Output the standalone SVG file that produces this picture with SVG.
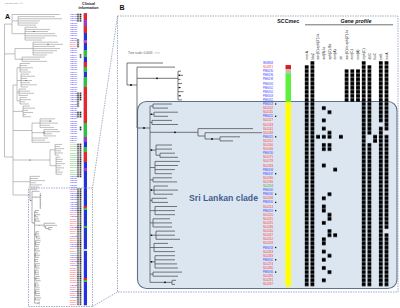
<svg xmlns="http://www.w3.org/2000/svg" width="400" height="308" viewBox="0 0 400 308">
<defs>
<style>
text{font-family:"Liberation Sans",Arial,sans-serif}
.al{font-size:1.7px}
.bl{font-size:3px}
.cb{fill:#3030ff}.cr{fill:#ff2a2a}.cg{fill:#22aa22}.cy{fill:#aaaa22}
.ta{fill:none;stroke:#8c8c8c;stroke-width:0.55}
.dash{fill:none;stroke:#8c9bb5;stroke-width:0.8;stroke-dasharray:1.5 1}
.gl{font-size:3.3px;fill:#222}
.gs{fill:url(#gsq)}
.as{fill:url(#asq)}
.hd{font-weight:bold;fill:#111}
</style>
<pattern id="gsq" patternUnits="userSpaceOnUse" x="303.85" y="60.95" width="5.7" height="4.1"><rect x="0.95" y="0.25" width="3.8" height="3.6" fill="#000"/></pattern>
<pattern id="asq" patternUnits="userSpaceOnUse" x="76.7" y="13.435" width="2.6" height="2.13"><rect x="0.55" y="0.3" width="1.5" height="1.5" fill="#111"/></pattern>
<g id="btree">
<path vector-effect="non-scaling-stroke" d="M127 63V85M127 63H163M127 85H137M137 67.1V128M137 67.1H175M137 78.3H178M178 71.2V99.9M178 71.2H181M178 75.3H183M178 79.4H180.5M178 83.5H182M178 87.6H181M178 91.7H183.5M178 95.8H180.5M178 99.9H182M137 128H150M150 106.05V282.35M150 106.05H153M153 104V108.1M153 104H172M153 108.1H168M150 114.25H154M154 112.2V116.3M154 112.2H178M154 116.3H168M150 122.45H152M152 120.4V124.5M152 120.4H172M152 124.5H178M150 132.3H198M198 128.6V136M198 128.6H253M198 136H205M205 132.7V139M205 132.7H262M205 139H220M220 136.8V140.9M220 136.8H240M220 140.9H233M150 150.1H156M156 145V155.25M156 145H172M156 149.1H172M156 155.25H160M160 153.2V157.3M160 153.2H175M160 157.3H178M150 167.55H155M155 161.4V173.7M155 161.4H180M155 165.5H178M155 169.6H175M155 173.7H172M150 179.85H153M153 177.8V181.9M153 177.8H172M153 181.9H177M150 190.1H154M154 186V194.2M154 186H168M154 190.1H178M154 194.2H173M150 200.35H152M152 198.3V202.4M152 198.3H167M152 202.4H168M150 210.6H155M155 206.5V214.7M155 206.5H177M155 210.6H175M155 214.7H175M150 222.9H153M153 218.8V227M153 218.8H170M153 222.9H172M153 227H172M150 235.2H156M156 231.1V239.3M156 231.1H175M156 235.2H175M156 239.3H180M150 247.5H154M154 243.4V251.6M154 243.4H168M154 247.5H173M154 251.6H175M150 261.85H155M155 255.7V268M155 255.7H175M155 259.8H175M155 263.9H177M155 268H178M150 274.15H153M153 272.1V276.2M153 272.1H182M153 276.2H178M150 282.35H172M172 280.3V284.4M172 280.3H176M172 284.4H175"/>
<g fill="#000" stroke="none">
<circle cx="131" cy="85" r="0.9"/><circle cx="157" cy="78.3" r="0.9"/><circle cx="144" cy="128" r="0.9"/><circle cx="175" cy="132.3" r="0.9"/><circle cx="212" cy="139" r="0.9"/><circle cx="165" cy="282.35" r="0.9"/><circle cx="151.5" cy="114.25" r="0.8"/><circle cx="151.5" cy="150.1" r="0.8"/><circle cx="151.5" cy="190.1" r="0.8"/><circle cx="151.5" cy="235.2" r="0.8"/><circle cx="151.5" cy="261.85" r="0.8"/><circle cx="179.5" cy="75.3" r="0.7"/><circle cx="179.5" cy="87.6" r="0.7"/><circle cx="180" cy="95.8" r="0.7"/>
</g>
</g>
</defs>
<rect width="400" height="308" fill="#fff"/>

<g id="panelA">
<text class="hd" x="5" y="18.5" font-size="7">A</text>
<text x="5" y="3.8" font-size="1.6" fill="#666">Tree scale: 0.0001</text>
<path d="M19.5 3.2H23" stroke="#999" stroke-width="0.4"/>
<text class="hd" x="88.5" y="4.8" font-size="3.6" text-anchor="middle">Clinical</text>
<text class="hd" x="88.5" y="9.2" font-size="3.6" text-anchor="middle">information</text>
<g id="treeA">
<path class="ta" d="M4.5 24.1V157M4.5 24.1H12M12 14.5V33.67M12 14.5H60M12 20.9H18M18 16.63V25.15M18 16.63H55M18 18.76H62M18 20.89H40M18 23.02H38M18 25.15H36M12 33.67H25M25 27.28V40.06M25 27.28H37M25 29.41H50M25 31.54H48M25 33.67H55M25 35.8H57M25 37.93H45M25 40.06H42M4.5 53.9H15M15 48.58V59.23M15 48.58H33M33 42.19V54.97M33 42.19H58M33 44.32H63M33 46.45H55M33 48.58H60M33 50.71H57M33 52.84H53M33 54.97H47M15 59.23H22M22 57.1V61.36M22 57.1H45M22 59.23H40M22 61.36H47"/>
<path class="ta" d="M4.5 157H13M13 85V195M13 85H17M17 67.75V100.8M17 67.75H20M20 63.49V72.01M20 63.49H30M20 65.62H27M20 67.75H33M20 69.88H28M20 72.01H31M17 80.53H21M21 74.14V86.92M21 74.14H29M21 76.27H35M21 78.4H27M21 80.53H32M21 82.66H30M21 84.79H37M21 86.92H28M17 92.2H19M19 89.05V95.44M19 89.05H26M19 91.18H30M19 93.31H34M19 95.44H28M17 100.8H20M20 97.57V103.96M20 97.57H27M20 99.7H31M20 101.83H25M20 103.96H29"/>
<path class="ta" d="M13 111.4H23M23 106.09V116.74M23 106.09H30M23 108.22H35M23 110.35H28M23 112.48H33M23 114.61H26M23 116.74H31M13 130.5H32M32 123.1V142.3M32 123.1H40M40 118.87V127.39M40 118.87H55M40 121H52M40 123.13H58M40 125.26H50M40 127.39H54M32 132.7H44M44 129.52V135.91M44 129.52H58M44 131.65H60M44 133.78H52M44 135.91H56M32 138.04H48M32 140.17H45M32 142.3H50"/>
<path class="ta" d="M13 160H50M50 149.8V165.7M50 149.8H55M55 144.43V155.08M55 144.43H62M55 146.56H60M55 148.69H64M55 150.82H61M55 152.95H63M55 155.08H59M50 165.7H56M56 157.21V174.25M56 157.21H60M56 159.34H63M56 161.47H62M56 163.6H65M56 165.73H61M56 167.86H64M56 169.99H60M56 172.12H63M56 174.25H62M13 181.7H30M30 176.38V187.03M30 176.38H40M30 178.51H38M30 180.64H45M30 182.77H36M30 184.9H42M30 187.03H39M13 195H30"/>
<g fill="#222"><circle cx="48" cy="44.32" r="0.5"/><circle cx="50" cy="121" r="0.5"/><circle cx="30" cy="160" r="0.5"/><circle cx="44" cy="132.7" r="0.5"/><circle cx="34" cy="31.54" r="0.5"/><circle cx="26" cy="80.53" r="0.5"/></g>
<use href="#btree" transform="matrix(0.2 0 0 0.5195 4.6 156.43)" stroke="#777" stroke-width="0.55" fill="none"/>
</g>
<g id="labelsA">
<text class="al cb" x="70" y="15.1"><tspan>PNE0101</tspan><tspan x="70" dy="2.13">PNE0104</tspan><tspan x="70" dy="2.13">PNE0107</tspan><tspan x="70" dy="2.13">PNE0110</tspan><tspan x="70" dy="2.13">PNE0112</tspan><tspan x="70" dy="2.13">PNE0115</tspan><tspan x="70" dy="2.13">PNE0118</tspan><tspan x="70" dy="2.13">PNE0121</tspan><tspan x="70" dy="2.13">PNE0123</tspan><tspan x="70" dy="2.13">PNE0126</tspan><tspan x="70" dy="2.13">PNE0129</tspan><tspan x="70" dy="2.13">PNE0131</tspan><tspan x="70" dy="2.13">PNE0134</tspan></text>
<text class="al cr" x="70" y="42.79"><tspan>SL0011</tspan><tspan x="70" dy="2.13">SL0014</tspan><tspan x="70" dy="2.13">SL0017</tspan></text>
<text class="al cb" x="70" y="49.18"><tspan>PNE0137</tspan><tspan x="70" dy="2.13">PNE0139</tspan><tspan x="70" dy="2.13">PNE0142</tspan><tspan x="70" dy="2.13">PNE0144</tspan><tspan x="70" dy="2.13">PNE0147</tspan><tspan x="70" dy="2.13">PNE0149</tspan><tspan x="70" dy="2.13">PNE0152</tspan><tspan x="70" dy="2.13">PNE0154</tspan><tspan x="70" dy="2.13">PNE0157</tspan><tspan x="70" dy="2.13">PNE0159</tspan><tspan x="70" dy="2.13">PNE0162</tspan><tspan x="70" dy="2.13">PNE0164</tspan><tspan x="70" dy="2.13">PNE0167</tspan><tspan x="70" dy="2.13">PNE0169</tspan><tspan x="70" dy="2.13">PNE0172</tspan><tspan x="70" dy="2.13">PNE0174</tspan><tspan x="70" dy="2.13">PNE0177</tspan><tspan x="70" dy="2.13">PNE0179</tspan><tspan x="70" dy="2.13">PNE0182</tspan><tspan x="70" dy="2.13">PNE0184</tspan><tspan x="70" dy="2.13">PNE0187</tspan><tspan x="70" dy="2.13">PNE0189</tspan><tspan x="70" dy="2.13">PNE0192</tspan><tspan x="70" dy="2.13">PNE0194</tspan><tspan x="70" dy="2.13">PNE0197</tspan><tspan x="70" dy="2.13">PNE0199</tspan><tspan x="70" dy="2.13">PNE0202</tspan><tspan x="70" dy="2.13">PNE0204</tspan><tspan x="70" dy="2.13">PNE0207</tspan><tspan x="70" dy="2.13">PNE0209</tspan><tspan x="70" dy="2.13">PNE0212</tspan><tspan x="70" dy="2.13">PNE0214</tspan><tspan x="70" dy="2.13">PNE0217</tspan><tspan x="70" dy="2.13">PNE0219</tspan><tspan x="70" dy="2.13">PNE0222</tspan><tspan x="70" dy="2.13">PNE0224</tspan><tspan x="70" dy="2.13">PNE0227</tspan><tspan x="70" dy="2.13">PNE0229</tspan><tspan x="70" dy="2.13">PNE0232</tspan><tspan x="70" dy="2.13">PNE0234</tspan><tspan x="70" dy="2.13">PNE0237</tspan><tspan x="70" dy="2.13">PNE0239</tspan><tspan x="70" dy="2.13">PNE0242</tspan><tspan x="70" dy="2.13">PNE0244</tspan></text>
<text class="al cy" x="70" y="142.9"><tspan>SL0021</tspan><tspan x="70" dy="2.13">SL0023</tspan></text>
<text class="al cg" x="70" y="147.16"><tspan>SL0025</tspan><tspan x="70" dy="2.13">SL0027</tspan><tspan x="70" dy="2.13">SL0029</tspan><tspan x="70" dy="2.13">SL0031</tspan><tspan x="70" dy="2.13">SL0033</tspan><tspan x="70" dy="2.13">SL0035</tspan><tspan x="70" dy="2.13">SL0037</tspan><tspan x="70" dy="2.13">SL0039</tspan><tspan x="70" dy="2.13">SL0041</tspan><tspan x="70" dy="2.13">SL0043</tspan><tspan x="70" dy="2.13">SL0045</tspan><tspan x="70" dy="2.13">SL0047</tspan><tspan x="70" dy="2.13">SL0049</tspan><tspan x="70" dy="2.13">SL0051</tspan></text>
<text class="al cb" x="70" y="176.98"><tspan>PNE0247</tspan><tspan x="70" dy="2.13">PNE0250</tspan><tspan x="70" dy="2.13">PNE0253</tspan><tspan x="70" dy="2.13">PNE0256</tspan><tspan x="70" dy="2.13">PNE0259</tspan><tspan x="70" dy="2.13">PNE0262</tspan></text>
<text class="al" x="70" y="189.76"><tspan class="cb">IE08808</tspan><tspan x="70" dy="2.13" class="cr">SL0871</tspan><tspan x="70" dy="2.13" class="cb">PNE0290</tspan><tspan x="70" dy="2.13" class="cb">PNE0296</tspan><tspan x="70" dy="2.13" class="cb">PNE0298</tspan><tspan x="70" dy="2.13" class="cb">PNE0300</tspan><tspan x="70" dy="2.13" class="cb">PNE0302</tspan><tspan x="70" dy="2.13" class="cb">PNE0305</tspan><tspan x="70" dy="2.13" class="cb">PNE0309</tspan><tspan x="70" dy="2.13" class="cb">PNE0311</tspan><tspan x="70" dy="2.13" class="cb">PNE0318</tspan><tspan x="70" dy="2.13" class="cr">SL0102</tspan><tspan x="70" dy="2.13" class="cr">SL0115</tspan><tspan x="70" dy="2.13" class="cb">PNE0321</tspan><tspan x="70" dy="2.13" class="cr">SL0127</tspan><tspan x="70" dy="2.13" class="cr">SL0133</tspan><tspan x="70" dy="2.13" class="cr">SL0141</tspan><tspan x="70" dy="2.13" class="cr">SL0148</tspan><tspan x="70" dy="2.13" class="cb">PNE0325</tspan><tspan x="70" dy="2.13" class="cr">SL0152</tspan><tspan x="70" dy="2.13" class="cr">SL0160</tspan><tspan x="70" dy="2.13" class="cr">SL0166</tspan><tspan x="70" dy="2.13" class="cb">PNE0330</tspan><tspan x="70" dy="2.13" class="cr">SL0171</tspan><tspan x="70" dy="2.13" class="cr">SL0178</tspan><tspan x="70" dy="2.13" class="cr">SL0183</tspan><tspan x="70" dy="2.13" class="cb">PNE0334</tspan><tspan x="70" dy="2.13" class="cb">PNE0337</tspan><tspan x="70" dy="2.13" class="cr">SL0190</tspan><tspan x="70" dy="2.13" class="cr">SL0196</tspan><tspan x="70" dy="2.13" class="cg">SL0203</tspan><tspan x="70" dy="2.13" class="cb">PNE0341</tspan><tspan x="70" dy="2.13" class="cb">PNE0345</tspan><tspan x="70" dy="2.13" class="cr">SL0208</tspan><tspan x="70" dy="2.13" class="cb">PNE0350</tspan><tspan x="70" dy="2.13" class="cr">SL0214</tspan><tspan x="70" dy="2.13" class="cb">PNE0353</tspan><tspan x="70" dy="2.13" class="cr">SL0220</tspan><tspan x="70" dy="2.13" class="cr">SL0225</tspan><tspan x="70" dy="2.13" class="cr">SL0231</tspan><tspan x="70" dy="2.13" class="cr">SL0236</tspan><tspan x="70" dy="2.13" class="cr">SL0240</tspan><tspan x="70" dy="2.13" class="cr">SL0247</tspan><tspan x="70" dy="2.13" class="cr">SL0252</tspan><tspan x="70" dy="2.13" class="cr">SL0258</tspan><tspan x="70" dy="2.13" class="cb">PNE0358</tspan><tspan x="70" dy="2.13" class="cr">SL0263</tspan><tspan x="70" dy="2.13" class="cr">SL0269</tspan><tspan x="70" dy="2.13" class="cb">PNE0362</tspan><tspan x="70" dy="2.13" class="cr">SL0274</tspan><tspan x="70" dy="2.13" class="cr">SL0280</tspan><tspan x="70" dy="2.13" class="cb">PNE0366</tspan><tspan x="70" dy="2.13" class="cr">SL0285</tspan><tspan x="70" dy="2.13" class="cr">SL0291</tspan><tspan x="70" dy="2.13" class="cr">SL0297</tspan></text>
</g>
<g id="squaresA">
<rect class="as" x="76.7" y="13.435" width="5.2" height="8.52"/>
<rect class="as" x="76.7" y="38.995" width="2.6" height="8.52"/>
<rect class="as" x="79.3" y="53.905" width="2.6" height="4.26"/>
<rect class="as" x="76.7" y="92.245" width="5.2" height="8.52"/>
<rect class="as" x="76.7" y="100.765" width="2.6" height="6.39"/>
<rect class="as" x="76.7" y="111.415" width="5.2" height="6.39"/>
<rect class="as" x="79.3" y="126.325" width="2.6" height="4.26"/>
<rect class="as" x="76.7" y="143.365" width="5.2" height="34.08"/>
<rect class="as" x="76.7" y="188.095" width="5.2" height="117.15"/>
</g>
<g id="clinicalBar">
<rect x="83.8" y="13.4" width="3.2" height="291.9" fill="#2233dd"/>
<rect x="83.8" y="13.4" width="3.2" height="6.6" fill="#e8262b"/>
<rect x="83.8" y="20" width="3.2" height="6" fill="#9a3ccf"/>
<rect x="83.8" y="26" width="3.2" height="7" fill="#e8262b"/>
<rect x="83.8" y="40" width="3.2" height="3" fill="#d24aa8"/>
<rect x="83.8" y="50" width="3.2" height="7" fill="#2ec23e"/>
<rect x="83.8" y="62" width="3.2" height="5" fill="#e8262b"/>
<rect x="83.8" y="67" width="3.2" height="5" fill="#2ec23e"/>
<rect x="83.8" y="77" width="3.2" height="10" fill="#2ec23e"/>
<rect x="83.8" y="87" width="3.2" height="36" fill="#e8262b"/>
<rect x="83.8" y="123" width="3.2" height="14" fill="#2ec23e"/>
<rect x="83.8" y="137" width="3.2" height="5" fill="#9a3ccf"/>
<rect x="83.8" y="147" width="3.2" height="5" fill="#2ec23e"/>
<rect x="83.8" y="152" width="3.2" height="10" fill="#e8262b"/>
<rect x="83.8" y="168" width="3.2" height="3" fill="#9a3ccf"/>
<rect x="83.8" y="206" width="3.2" height="2" fill="#e8262b"/>
<rect x="83.8" y="208" width="3.2" height="2" fill="#2ec23e"/>
<rect x="83.8" y="226" width="3.2" height="2" fill="#2ec23e"/>
<rect x="83.8" y="249" width="3.2" height="2" fill="#dddddd"/>
<rect x="83.8" y="278" width="3.2" height="2" fill="#e8262b"/>
<rect x="83.8" y="280" width="3.2" height="2" fill="#2ec23e"/>
</g>
</g>

<g id="panelB">
<text class="hd" x="119.5" y="9.5" font-size="7">B</text>
<rect id="srilankan-clade-box" x="137.5" y="101.5" width="259.5" height="187" rx="9" fill="#dce6f1" stroke="#5f708c" stroke-width="1.1"/>
<text x="189" y="200.5" font-size="9.3" font-weight="bold" fill="#3f5f8f" textLength="69" lengthAdjust="spacingAndGlyphs">Sri Lankan clade</text>
<text x="128" y="54" font-size="3" fill="#555">Tree scale: 0.0001</text>
<path d="M154.5 52.9H160" stroke="#aaa" stroke-width="0.6"/>
<use href="#btree" stroke="#555" stroke-width="0.8" fill="none"/>
<text class="hd" x="288.2" y="23.3" font-size="5.3" text-anchor="middle">SCCmec</text>
<text class="hd" x="356" y="23" font-size="5.3" font-style="italic" text-anchor="middle">Gene profile</text>
<path d="M305 24.8H393" stroke="#333" stroke-width="0.7"/>
<g id="geneLabels">
<text class="gl" transform="translate(307.8 59.5) rotate(-90)">mecA</text>
<text class="gl" transform="translate(313.5 59.5) rotate(-90)">blaZ</text>
<text class="gl" transform="translate(319.2 59.5) rotate(-90)">aac(6')-aph(2'')-Ia</text>
<text class="gl" transform="translate(324.9 59.5) rotate(-90)">ant(9)-Ia</text>
<text class="gl" transform="translate(330.6 59.5) rotate(-90)">aph(3')-IIIa</text>
<text class="gl" transform="translate(336.3 59.5) rotate(-90)">erm(A)</text>
<text class="gl" transform="translate(342 59.5) rotate(-90)">str</text>
<text class="gl" transform="translate(347.7 59.5) rotate(-90)">aac(6')-Ie-aph(2'')-Ia</text>
<text class="gl" transform="translate(353.4 59.5) rotate(-90)">erm(C)</text>
<text class="gl" transform="translate(359.1 59.5) rotate(-90)">msr(A)</text>
<text class="gl" transform="translate(364.8 59.5) rotate(-90)">mph(C)</text>
<text class="gl" transform="translate(370.5 59.5) rotate(-90)">dfrG</text>
<text class="gl" transform="translate(376.2 59.5) rotate(-90)">fusC</text>
<text class="gl" transform="translate(381.9 59.5) rotate(-90)">tetK</text>
<text class="gl" transform="translate(387.6 59.5) rotate(-90)">norA</text>
</g>
<g id="labelsB" class="bl">
<text class="cb" x="263" y="64.05" textLength="10" lengthAdjust="spacingAndGlyphs">IE08808</text>
<text class="cr" x="263" y="68.15" textLength="10" lengthAdjust="spacingAndGlyphs">SL0871</text>
<text class="cb" x="263" y="72.25" textLength="10" lengthAdjust="spacingAndGlyphs">PNE0290</text>
<text class="cb" x="263" y="76.35" textLength="10" lengthAdjust="spacingAndGlyphs">PNE0296</text>
<text class="cb" x="263" y="80.45" textLength="10" lengthAdjust="spacingAndGlyphs">PNE0298</text>
<text class="cb" x="263" y="84.55" textLength="10" lengthAdjust="spacingAndGlyphs">PNE0300</text>
<text class="cb" x="263" y="88.65" textLength="10" lengthAdjust="spacingAndGlyphs">PNE0302</text>
<text class="cb" x="263" y="92.75" textLength="10" lengthAdjust="spacingAndGlyphs">PNE0305</text>
<text class="cb" x="263" y="96.85" textLength="10" lengthAdjust="spacingAndGlyphs">PNE0309</text>
<text class="cb" x="263" y="100.95" textLength="10" lengthAdjust="spacingAndGlyphs">PNE0311</text>
<text class="cb" x="263" y="105.05" textLength="10" lengthAdjust="spacingAndGlyphs">PNE0318</text>
<text class="cr" x="263" y="109.15" textLength="10" lengthAdjust="spacingAndGlyphs">SL0102</text>
<text class="cr" x="263" y="113.25" textLength="10" lengthAdjust="spacingAndGlyphs">SL0115</text>
<text class="cb" x="263" y="117.35" textLength="10" lengthAdjust="spacingAndGlyphs">PNE0321</text>
<text class="cr" x="263" y="121.45" textLength="10" lengthAdjust="spacingAndGlyphs">SL0127</text>
<text class="cr" x="263" y="125.55" textLength="10" lengthAdjust="spacingAndGlyphs">SL0133</text>
<text class="cr" x="263" y="129.65" textLength="10" lengthAdjust="spacingAndGlyphs">SL0141</text>
<text class="cr" x="263" y="133.75" textLength="10" lengthAdjust="spacingAndGlyphs">SL0148</text>
<text class="cb" x="263" y="137.85" textLength="10" lengthAdjust="spacingAndGlyphs">PNE0325</text>
<text class="cr" x="263" y="141.95" textLength="10" lengthAdjust="spacingAndGlyphs">SL0152</text>
<text class="cr" x="263" y="146.05" textLength="10" lengthAdjust="spacingAndGlyphs">SL0160</text>
<text class="cr" x="263" y="150.15" textLength="10" lengthAdjust="spacingAndGlyphs">SL0166</text>
<text class="cb" x="263" y="154.25" textLength="10" lengthAdjust="spacingAndGlyphs">PNE0330</text>
<text class="cr" x="263" y="158.35" textLength="10" lengthAdjust="spacingAndGlyphs">SL0171</text>
<text class="cr" x="263" y="162.45" textLength="10" lengthAdjust="spacingAndGlyphs">SL0178</text>
<text class="cr" x="263" y="166.55" textLength="10" lengthAdjust="spacingAndGlyphs">SL0183</text>
<text class="cb" x="263" y="170.65" textLength="10" lengthAdjust="spacingAndGlyphs">PNE0334</text>
<text class="cb" x="263" y="174.75" textLength="10" lengthAdjust="spacingAndGlyphs">PNE0337</text>
<text class="cr" x="263" y="178.85" textLength="10" lengthAdjust="spacingAndGlyphs">SL0190</text>
<text class="cr" x="263" y="182.95" textLength="10" lengthAdjust="spacingAndGlyphs">SL0196</text>
<text class="cg" x="263" y="187.05" textLength="10" lengthAdjust="spacingAndGlyphs">SL0203</text>
<text class="cb" x="263" y="191.15" textLength="10" lengthAdjust="spacingAndGlyphs">PNE0341</text>
<text class="cb" x="263" y="195.25" textLength="10" lengthAdjust="spacingAndGlyphs">PNE0345</text>
<text class="cr" x="263" y="199.35" textLength="10" lengthAdjust="spacingAndGlyphs">SL0208</text>
<text class="cb" x="263" y="203.45" textLength="10" lengthAdjust="spacingAndGlyphs">PNE0350</text>
<text class="cr" x="263" y="207.55" textLength="10" lengthAdjust="spacingAndGlyphs">SL0214</text>
<text class="cb" x="263" y="211.65" textLength="10" lengthAdjust="spacingAndGlyphs">PNE0353</text>
<text class="cr" x="263" y="215.75" textLength="10" lengthAdjust="spacingAndGlyphs">SL0220</text>
<text class="cr" x="263" y="219.85" textLength="10" lengthAdjust="spacingAndGlyphs">SL0225</text>
<text class="cr" x="263" y="223.95" textLength="10" lengthAdjust="spacingAndGlyphs">SL0231</text>
<text class="cr" x="263" y="228.05" textLength="10" lengthAdjust="spacingAndGlyphs">SL0236</text>
<text class="cr" x="263" y="232.15" textLength="10" lengthAdjust="spacingAndGlyphs">SL0240</text>
<text class="cr" x="263" y="236.25" textLength="10" lengthAdjust="spacingAndGlyphs">SL0247</text>
<text class="cr" x="263" y="240.35" textLength="10" lengthAdjust="spacingAndGlyphs">SL0252</text>
<text class="cr" x="263" y="244.45" textLength="10" lengthAdjust="spacingAndGlyphs">SL0258</text>
<text class="cb" x="263" y="248.55" textLength="10" lengthAdjust="spacingAndGlyphs">PNE0358</text>
<text class="cr" x="263" y="252.65" textLength="10" lengthAdjust="spacingAndGlyphs">SL0263</text>
<text class="cr" x="263" y="256.75" textLength="10" lengthAdjust="spacingAndGlyphs">SL0269</text>
<text class="cb" x="263" y="260.85" textLength="10" lengthAdjust="spacingAndGlyphs">PNE0362</text>
<text class="cr" x="263" y="264.95" textLength="10" lengthAdjust="spacingAndGlyphs">SL0274</text>
<text class="cr" x="263" y="269.05" textLength="10" lengthAdjust="spacingAndGlyphs">SL0280</text>
<text class="cb" x="263" y="273.15" textLength="10" lengthAdjust="spacingAndGlyphs">PNE0366</text>
<text class="cr" x="263" y="277.25" textLength="10" lengthAdjust="spacingAndGlyphs">SL0285</text>
<text class="cr" x="263" y="281.35" textLength="10" lengthAdjust="spacingAndGlyphs">SL0291</text>
<text class="cr" x="263" y="285.45" textLength="10" lengthAdjust="spacingAndGlyphs">SL0297</text>
</g>
<g id="labelMarks" fill="#111">
<rect x="275" y="103.35" width="1.3" height="1.3"/><rect x="275" y="115.65" width="1.3" height="1.3"/><rect x="275" y="136.15" width="1.3" height="1.3"/><rect x="275" y="173.05" width="1.3" height="1.3"/><rect x="275" y="193.55" width="1.3" height="1.3"/><rect x="275" y="201.75" width="1.3" height="1.3"/><rect x="275" y="209.95" width="1.3" height="1.3"/><rect x="275" y="246.85" width="1.3" height="1.3"/><rect x="275" y="259.15" width="1.3" height="1.3"/><rect x="275" y="271.45" width="1.3" height="1.3"/>
</g>
<g id="sccmec">
<rect x="285.5" y="65.05" width="5.5" height="4.1" fill="#e31a1c"/>
<rect x="285.5" y="69.15" width="5.5" height="4.1" fill="#bfbfbf"/>
<rect x="285.5" y="73.25" width="5.5" height="28.7" fill="#5cf03c"/>
<rect x="285.5" y="101.95" width="5.5" height="184.5" fill="#ffff00"/>
</g>
<g id="geneProfile">
<rect class="gs" x="303.85" y="65.05" width="5.7" height="221.4"/>
<rect class="gs" x="309.55" y="60.95" width="5.7" height="225.5"/>
<rect class="gs" x="343.75" y="69.15" width="17.1" height="32.8"/>
<rect class="gs" x="360.85" y="60.95" width="5.7" height="225.5"/>
<rect class="gs" x="366.55" y="65.05" width="5.7" height="69.7"/>
<rect class="gs" x="366.55" y="142.95" width="5.7" height="143.5"/>
<rect class="gs" x="372.25" y="134.75" width="5.7" height="8.2"/>
<rect class="gs" x="377.95" y="60.95" width="5.7" height="61.5"/>
<rect class="gs" x="377.95" y="126.55" width="5.7" height="159.9"/>
<rect class="gs" x="383.65" y="60.95" width="5.7" height="69.7"/>
<rect class="gs" x="383.65" y="134.75" width="5.7" height="94.3"/>
<rect class="gs" x="383.65" y="233.15" width="5.7" height="53.3"/>
<rect class="gs" x="320.95" y="106.05" width="5.7" height="4.1"/>
<rect class="gs" x="326.65" y="110.15" width="5.7" height="4.1"/>
<rect class="gs" x="320.95" y="118.35" width="5.7" height="4.1"/>
<rect class="gs" x="320.95" y="126.55" width="5.7" height="4.1"/>
<rect class="gs" x="326.65" y="130.65" width="5.7" height="4.1"/>
<rect class="gs" x="315.25" y="134.75" width="17.1" height="4.1"/>
<rect class="gs" x="338.05" y="134.75" width="5.7" height="4.1"/>
<rect class="gs" x="320.95" y="142.95" width="11.4" height="8.2"/>
<rect class="gs" x="320.95" y="163.45" width="5.7" height="4.1"/>
<rect class="gs" x="332.35" y="167.55" width="5.7" height="4.1"/>
<rect class="gs" x="326.65" y="192.15" width="5.7" height="4.1"/>
<rect class="gs" x="320.95" y="196.25" width="5.7" height="4.1"/>
<rect class="gs" x="320.95" y="204.45" width="5.7" height="8.2"/>
<rect class="gs" x="326.65" y="212.65" width="5.7" height="8.2"/>
<rect class="gs" x="320.95" y="220.85" width="5.7" height="4.1"/>
<rect class="gs" x="326.65" y="229.05" width="5.7" height="8.2"/>
<rect class="gs" x="332.35" y="233.15" width="5.7" height="4.1"/>
<rect class="gs" x="320.95" y="237.25" width="5.7" height="8.2"/>
<rect class="gs" x="320.95" y="249.55" width="5.7" height="4.1"/>
<rect class="gs" x="326.65" y="253.65" width="5.7" height="4.1"/>
<rect class="gs" x="320.95" y="257.75" width="5.7" height="4.1"/>
<rect class="gs" x="320.95" y="265.95" width="5.7" height="4.1"/>
<rect class="gs" x="326.65" y="270.05" width="5.7" height="4.1"/>
<rect class="gs" x="320.95" y="278.25" width="5.7" height="4.1"/>
</g>
</g>

<g id="connectors">
<rect class="dash" x="117.5" y="16" width="280.5" height="276"/>
<rect class="dash" x="28.5" y="188" width="64" height="118.5"/>
<path class="dash" d="M117.5 16L92.5 188M117.5 292L92.5 306.5"/>
</g>
</svg>
